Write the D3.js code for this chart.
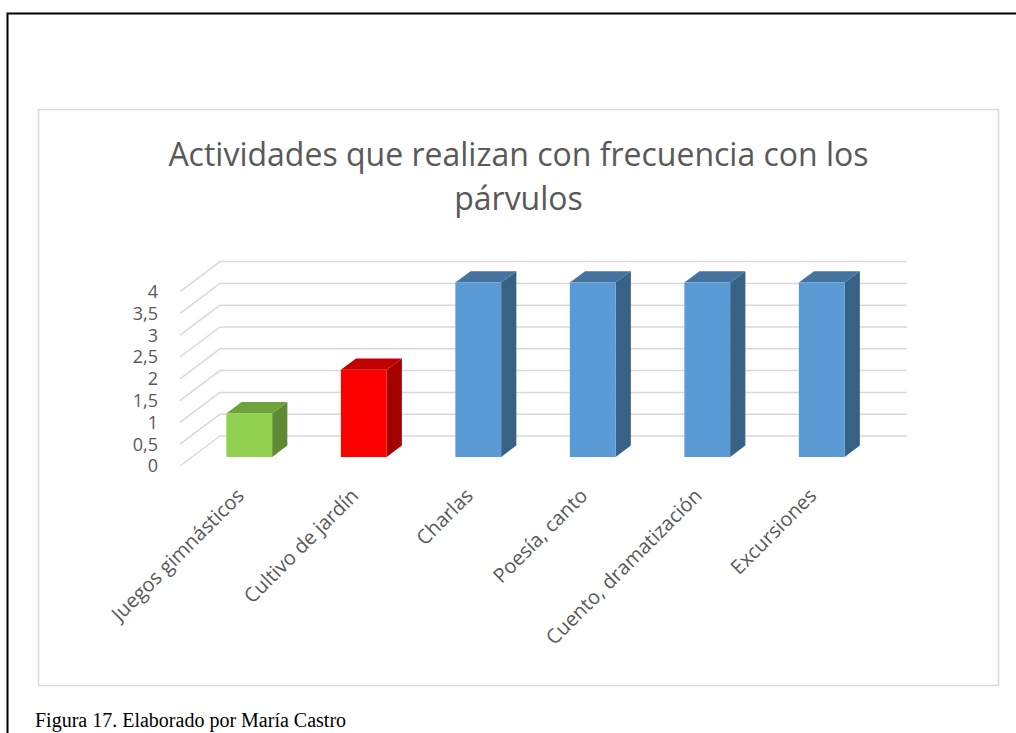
<!DOCTYPE html>
<html>
<head>
<meta charset="utf-8">
<script src="https://cdn.jsdelivr.net/npm/d3@7"></script>
<style>
  body { margin: 0; background: #fff; }
  svg { display: block; }
</style>
</head>
<body>
<script>
const categories = ["Juegos gimnásticos", "Cultivo de jardín", "Charlas", "Poesía, canto", "Cuento, dramatización", "Excursiones"];
const values = [1, 2, 4, 4, 4, 4];
const frontColors = ["#92d050", "#ff0000", "#5b9bd5", "#5b9bd5", "#5b9bd5", "#5b9bd5"];
const topColors = ["#70a23c", "#c00000", "#4473a0", "#4473a0", "#4473a0", "#4473a0"];
const sideColors = ["#5f8a33", "#a30000", "#386186", "#386186", "#386186", "#386186"];
const yTicks = [0, 0.5, 1, 1.5, 2, 2.5, 3, 3.5, 4];
const yTickLabels = ["0", "0,5", "1", "1,5", "2", "2,5", "3", "3,5", "4"];
const titleLines = ["Actividades que realizan con frecuencia con los", "párvulos"];
const caption = "Figura 17. Elaborado por María Castro";

const width = 1016;
const height = 733;

// front plane of the 3d box
const x = d3.scaleBand()
  .domain(categories)
  .range([180, 867])
  .paddingInner(0.6)
  .paddingOuter(0.3);

const y = d3.scaleLinear()
  .domain([0, 4])
  .range([466, 291.6]);

// oblique depth
const depth = 50;
const barZ0 = 15, barZ1 = 34;
function proj(px, py, z) { return [px + 0.8 * z, py - 0.6 * z]; }

const svg = d3.select("body").append("svg")
  .attr("width", width)
  .attr("height", height);

// page frame
svg.append("rect")
  .attr("x", 7.5).attr("y", 13.5)
  .attr("width", 1200).attr("height", 900)
  .attr("fill", "none").attr("stroke", "#000").attr("stroke-width", 2);

// chart area border
svg.append("rect")
  .attr("x", 38.5).attr("y", 109.5)
  .attr("width", 960).attr("height", 576)
  .attr("fill", "#fff").attr("stroke", "#d9d9d9").attr("stroke-width", 1.5);

// title
svg.append("g").selectAll("text")
  .data(titleLines)
  .enter()
    .append("text")
    .attr("x", 518.5)
    .attr("y", function (d, i) { return 166 + i * 44; })
    .attr("text-anchor", "middle")
    .attr("font-family", "Open Sans")
    .attr("font-size", 32)
    .attr("fill", "#595959")
    .text(function (d) { return d; });

// gridlines: back wall and side wall
const grid = svg.append("g")
  .attr("stroke", "#d9d9d9")
  .attr("stroke-width", 1.5)
  .attr("fill", "none");

grid.selectAll("line.back")
  .data(yTicks)
  .enter()
    .append("line")
    .attr("class", "back")
    .attr("x1", function (d) { return proj(x.range()[0], y(d), depth)[0]; })
    .attr("y1", function (d) { return proj(x.range()[0], y(d), depth)[1]; })
    .attr("x2", function (d) { return proj(x.range()[1], y(d), depth)[0]; })
    .attr("y2", function (d) { return proj(x.range()[1], y(d), depth)[1]; });

grid.selectAll("line.side")
  .data(yTicks)
  .enter()
    .append("line")
    .attr("class", "side")
    .attr("x1", function (d) { return proj(x.range()[0], y(d), 0)[0]; })
    .attr("y1", function (d) { return proj(x.range()[0], y(d), 0)[1]; })
    .attr("x2", function (d) { return proj(x.range()[0], y(d), depth)[0]; })
    .attr("y2", function (d) { return proj(x.range()[0], y(d), depth)[1]; });

// y labels
svg.append("g").selectAll("text")
  .data(yTicks)
  .enter()
    .append("text")
    .attr("x", 158)
    .attr("y", function (d) { return y(d); })
    .attr("dy", "0.35em")
    .attr("text-anchor", "end")
    .attr("font-family", "Open Sans")
    .attr("font-size", 18)
    .attr("fill", "#595959")
    .text(function (d, i) { return yTickLabels[i]; });

// bars
const bars = svg.append("g").selectAll("g")
  .data(categories)
  .enter()
    .append("g");

bars.each(function (d, i) {
  const g = d3.select(this);
  const x0 = x(d), x1 = x(d) + x.bandwidth();
  const yb = y(0), yt = y(values[i]);
  const pts = function (arr) { return arr.map(function (p) { return proj(p[0], p[1], p[2]).join(","); }).join(" "); };
  // side face
  g.append("polygon")
    .attr("points", pts([[x1, yt, barZ0], [x1, yt, barZ1], [x1, yb, barZ1], [x1, yb, barZ0]]))
    .attr("fill", sideColors[i]);
  // top face
  g.append("polygon")
    .attr("points", pts([[x0, yt, barZ0], [x0, yt, barZ1], [x1, yt, barZ1], [x1, yt, barZ0]]))
    .attr("fill", topColors[i]);
  // front face
  g.append("polygon")
    .attr("points", pts([[x0, yt, barZ0], [x1, yt, barZ0], [x1, yb, barZ0], [x0, yb, barZ0]]))
    .attr("fill", frontColors[i]);
});

// x labels
svg.append("g").selectAll("text")
  .data(categories)
  .enter()
    .append("text")
    .attr("transform", function (d) {
      return "translate(" + (x(d) + x.bandwidth() / 2 + 8) + ",497) rotate(-45)";
    })
    .attr("text-anchor", "end")
    .attr("font-family", "Open Sans")
    .attr("font-size", 20)
    .attr("fill", "#595959")
    .text(function (d) { return d; });

// caption
svg.append("text")
  .attr("x", 35)
  .attr("y", 727)
  .attr("font-family", "Liberation Serif")
  .attr("font-size", 20)
  .attr("fill", "#000")
  .text(caption);
</script>
</body>
</html>
